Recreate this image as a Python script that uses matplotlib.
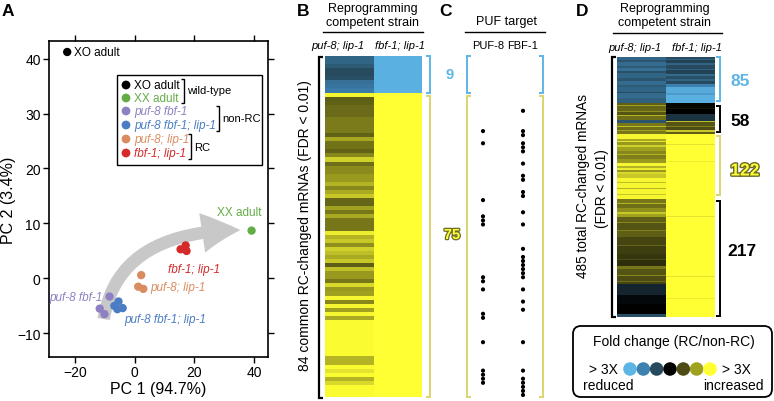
import numpy as np
import matplotlib

matplotlib.use("Agg")
import matplotlib.pyplot as plt
import matplotlib.patheffects as pe
from matplotlib import font_manager
from matplotlib.colors import LinearSegmentedColormap
from matplotlib.patches import FancyArrowPatch, FancyBboxPatch, Rectangle

W, H = 774, 402

_names = {f.name for f in font_manager.fontManager.ttflist}
SANS = "Liberation Sans" if "Liberation Sans" in _names else "DejaVu Sans"
plt.rcParams["font.family"] = [SANS, "DejaVu Sans"]

# ---------------- data ----------------
# panel A: PCA of samples
PCA_GROUPS = ["XO adult", "XX adult", "puf-8 fbf-1", "puf-8 fbf-1; lip-1", "puf-8; lip-1", "fbf-1; lip-1"]
PCA_COLORS = ["#000000", "#63ad47", "#8e80c3", "#4a7dc3", "#d98c5f", "#d42a2a"]
PC1_VALUES = [[-22.6], [39.2], [-8.4, -11.7, -10.1], [-5.4, -6.8, -4.0, -5.8], [2.2, 1.2, 2.9], [15.4, 17.1, 17.4]]
PC2_VALUES = [[41.2], [8.7], [-3.3, -5.5, -6.5], [-4.2, -5.0, -5.4, -5.6], [0.6, -1.5, -1.9], [5.3, 6.0, 5.0]]
ARROW_START = (-10.5, -7.9)
ARROW_END = (36.4, 8.8)

# fold-change colour levels (-3 = >3X reduced ... +3 = >3X increased)
LEVELS = [-3, -2, -1, 0, 1, 2, 3]
LEVEL_COLORS = ["#5db5e6", "#3c80ae", "#274a5e", "#000000", "#4c4c14", "#a0a020", "#ffff33"]

# panel B: 84 common RC-changed mRNAs, two strains
B_PUF8_LIP1 = [-1.5, -1.5, -1.3, -1.0, -1.0, -1.1, -1.7, -1.8, -1.9, 2.9,
               1.2, 1.25, 1.35, 1.35, 1.35, 1.55, 1.55, 1.55, 1.55, 1.25,
               2.05, 1.45, 1.45, 1.25, 1.7, 2.5, 1.4, 1.75, 1.75, 1.9,
               1.9, 2.2, 1.7, 2.1, 2.4, 1.3, 1.3, 2.0, 1.5, 2.1,
               1.5, 1.5, 1.5, 2.8, 2.2, 2.4, 1.8, 2.5, 2.3, 2.1,
               2.4, 1.2, 2.3, 1.9, 1.9, 1.5, 2.6, 1.9, 2.0, 2.9,
               1.7, 2.9, 2.0, 2.9, 2.1, 2.95, 2.95, 2.95, 2.95, 2.95,
               2.95, 2.95, 2.95, 2.95, 2.2, 2.2, 2.95, 2.7, 2.95, 2.2,
               2.6, 2.95, 2.95, 2.95]
B_FBF1_LIP1 = [-2.9] * 9 + [3.0] * 75
B_GROUPS = [9, 75]

# panel C: PUF targets (row indices within the 84 mRNAs of panel B)
PUF8_TARGET_ROWS = [18, 21, 35, 39, 40, 41, 54, 55, 57, 63, 64, 70, 77, 78, 79, 80]
FBF1_TARGET_ROWS = [13, 18, 19, 21, 22, 23, 26, 29, 30, 33, 34, 38, 41, 47, 49, 50, 51, 52,
                    53, 54, 57, 60, 62, 70, 77, 79, 80, 81, 82, 83]

# panel D: 485 RC-changed mRNAs, run-length (level, rows)
D_PUF8_LIP1 = [(-1.5, 6), (-1.2, 3), (-1.6, 8), (-1.3, 4), (-1.7, 6), (-1.1, 3), (-1.5, 10),
               (-1.2, 5), (-1.6, 7), (-1.3, 4), (-1.5, 9), (-1.0, 3), (-1.6, 8), (-1.4, 9),
               (1.2, 5), (2.0, 2), (1.3, 8), (1.8, 2), (1.1, 6), (2.2, 2), (1.4, 7),
               (-1.2, 6), (1.5, 5), (2.3, 2), (1.4, 6), (2.0, 2), (1.5, 5),
               (2.9, 10), (2.1, 4), (2.7, 2), (1.9, 6), (2.5, 3), (2.0, 7), (1.7, 6),
               (2.2, 2), (1.6, 8), (1.9, 7), (2.9, 5), (2.2, 4), (2.8, 3), (1.9, 5),
               (2.6, 3), (2.4, 7), (2.9, 8), (2.3, 2), (2.9, 10), (2.2, 2), (2.9, 8),
               (2.4, 2), (2.9, 8),
               (1.5, 8), (2.2, 2), (1.4, 6), (1.8, 8), (2.4, 3), (2.0, 6), (1.2, 10),
               (1.7, 2), (1.1, 12), (1.6, 2), (1.2, 12), (0.9, 14), (1.3, 2), (0.8, 15),
               (0.7, 10), (1.0, 2), (0.6, 10), (1.5, 7), (1.1, 10), (1.7, 3), (1.0, 8),
               (1.4, 3), (0.9, 4), (-0.5, 20), (-0.1, 16), (0.0, 20), (-1.1, 5)]
D_FBF1_LIP1 = [(-1.0, 4), (-1.4, 2), (-0.9, 6), (-1.5, 3), (-1.0, 7), (-1.4, 2), (-0.9, 8),
               (-1.6, 3), (-1.1, 6), (-1.5, 3), (-1.0, 6), (-2.0, 6), (-2.8, 12), (-2.5, 2),
               (-2.9, 15),
               (0.1, 10), (0.3, 2), (0.0, 10), (-0.7, 12), (2.3, 2), (1.1, 7), (1.6, 3),
               (1.0, 6), (2.4, 2), (1.2, 4),
               (3.0, 20), (2.7, 1), (3.0, 30), (2.8, 1), (3.0, 25), (2.7, 1), (3.0, 40),
               (2.8, 1), (3.0, 35), (2.7, 1), (3.0, 50), (2.8, 1), (3.0, 60), (2.7, 1),
               (3.0, 40), (2.8, 1), (3.0, 34)]
D_GROUPS = [85, 58, 122, 217]

STRAINS = ["puf-8; lip-1", "fbf-1; lip-1"]

# ---------------- helpers ----------------
cmap = LinearSegmentedColormap.from_list(
    "fc", [((v + 3) / 6, c) for v, c in zip(LEVELS, LEVEL_COLORS)])

BLUE_BR = "#5db5e6"
YELLOW_BR = "#dcd56e"


def frac(x0, y0, x1, y1):
    return [x0 / W, 1 - y1 / H, (x1 - x0) / W, (y1 - y0) / H]


def expand(segments):
    return np.concatenate([np.full(n, v, dtype=float) for v, n in segments])


def heatmap(rect, columns):
    a = fig.add_axes(rect)
    mat = np.column_stack(columns)
    a.pcolormesh(np.arange(mat.shape[1] + 1), np.arange(mat.shape[0] + 1), mat,
                 cmap=cmap, vmin=-3, vmax=3, shading="flat", antialiased=False)
    a.set_xlim(0, mat.shape[1])
    a.set_ylim(mat.shape[0], 0)
    a.axis("off")
    return a


fig = plt.figure(figsize=(W / 100, H / 100), dpi=100)

# ---------------- panel A ----------------
ax = fig.add_axes(frac(49, 42, 268, 358))
ax.add_patch(FancyArrowPatch(
    ARROW_START, ARROW_END,
    arrowstyle="simple,head_length=2.3,head_width=2.4,tail_width=0.75",
    mutation_scale=12, connectionstyle="angle3,angleA=82,angleB=0",
    color="#c8c8c8", lw=0, zorder=1))
for col, xs, ys in zip(PCA_COLORS, PC1_VALUES, PC2_VALUES):
    ax.scatter(xs, ys, s=36, color=col, edgecolors="none", zorder=3)
ax.set_xlim(-28.7, 44.7)
ax.set_ylim(-14.3, 43.2)
ax.set_xticks([-20, 0, 20, 40])
ax.set_yticks([-10, 0, 10, 20, 30, 40])
ax.tick_params(top=True, right=True, labeltop=False, labelright=False,
               direction="out", length=4.5, width=1.0, labelsize=10, pad=1.5)
for s in ax.spines.values():
    s.set_linewidth(1.2)
ax.set_xlabel("PC 1 (94.7%)", fontsize=11.5)
ax.set_ylabel("PC 2 (3.4%)", fontsize=11.5)
ax.xaxis.set_label_coords(0.5, -(382 - 358) / 316)
ax.yaxis.set_label_coords(-(49 - 16) / 219, 0.5)

ax.text(-20.2, 41.2, "XO adult", fontsize=8.5, ha="left", va="center")
ax.text(35.2, 12.0, "XX adult", fontsize=8.5, color=PCA_COLORS[1], ha="center", va="center")
ax.text(20.0, 1.8, "fbf-1; lip-1", fontsize=8.5, color=PCA_COLORS[5], style="italic",
        ha="center", va="center")
ax.text(5.4, -1.5, "puf-8; lip-1", fontsize=8.5, color=PCA_COLORS[4], style="italic",
        ha="left", va="center")
ax.text(-10.7, -3.3, "puf-8 fbf-1", fontsize=8.5, color=PCA_COLORS[2], style="italic",
        ha="right", va="center")
ax.text(-3.4, -7.4, "puf-8 fbf-1; lip-1", fontsize=8.5, color=PCA_COLORS[3], style="italic",
        ha="left", va="center")

# ---------------- panel B heatmap ----------------
heatmap(frac(325, 57, 422, 398), [B_PUF8_LIP1, B_FBF1_LIP1])

# ---------------- panel C dots ----------------
axc = fig.add_axes(frac(463, 57, 543, 398))
axc.scatter([0] * len(PUF8_TARGET_ROWS), PUF8_TARGET_ROWS, s=9, color="black", edgecolors="none")
axc.scatter([1] * len(FBF1_TARGET_ROWS), FBF1_TARGET_ROWS, s=9, color="black", edgecolors="none")
axc.set_xlim(-0.5, 1.5)
axc.set_ylim(sum(B_GROUPS) - 0.5, -0.5)
axc.axis("off")

# ---------------- panel D heatmap ----------------
heatmap(frac(617, 58, 715, 318), [expand(D_PUF8_LIP1), expand(D_FBF1_LIP1)])

# ---------------- overlay for annotations ----------------
ov = fig.add_axes([0, 0, 1, 1])
ov.set_xlim(0, W)
ov.set_ylim(H, 0)
ov.axis("off")
ov.set_zorder(10)


def bracket(x, y0, y1, side, color, lw=1.2, tick=4):
    d = tick if side == "left" else -tick
    ov.plot([x + d, x, x, x + d], [y0, y0, y1, y1], color=color, lw=lw,
            solid_joinstyle="miter", solid_capstyle="butt")


# panel letters
for letter, (lx, ly) in zip("ABCD", [(8, 12), (303, 12), (446, 11), (582, 11)]):
    ov.text(lx, ly, letter, fontsize=12.5, fontweight="bold", ha="center", va="center")

# legend of panel A
ov.add_patch(Rectangle((117, 76), 145, 90, facecolor="white", edgecolor="black", lw=1.0))
leg_y = [86, 99, 112, 126, 140, 154]
ov.scatter([126] * len(leg_y), leg_y, s=40, c=PCA_COLORS, edgecolors="none")
for y, name, col in zip(leg_y, PCA_GROUPS, PCA_COLORS):
    ov.text(134, y, name, fontsize=8.5, color=col, ha="left", va="center",
            style="normal" if "adult" in name else "italic")
bracket(184, 80, 104, "right", "black", lw=1.0, tick=3)
ov.text(187, 91, "wild-type", fontsize=8, ha="left", va="center")
bracket(219, 107, 132, "right", "black", lw=1.0, tick=3)
ov.text(222, 119, "non-RC", fontsize=8, ha="left", va="center")
bracket(191, 135, 160, "right", "black", lw=1.0, tick=3)
ov.text(194, 148, "RC", fontsize=8, ha="left", va="center")

# headers B
ov.text(373, 9, "Reprogramming", fontsize=9, ha="center", va="center")
ov.text(373, 23, "competent strain", fontsize=9, ha="center", va="center")
ov.plot([323, 423], [33, 33], color="black", lw=1.0)
ov.text(338, 46, STRAINS[0], fontsize=8, style="italic", ha="center", va="center")
ov.text(400, 46, STRAINS[1], fontsize=8, style="italic", ha="center", va="center")
ov.text(305, 226, "84 common RC-changed mRNAs (FDR < 0.01)", rotation=90, fontsize=10,
        ha="center", va="center")
bracket(319, 57.5, 398.5, "left", "black", lw=1.6, tick=4)
bracket(430, 57, 93.5, "right", BLUE_BR, lw=1.4)
bracket(430, 97, 398, "right", YELLOW_BR, lw=1.4)
ov.text(450, 75, str(B_GROUPS[0]), fontsize=10.5, fontweight="bold", color=BLUE_BR,
        ha="center", va="center")
ov.text(452, 236, str(B_GROUPS[1]), fontsize=10.5, fontweight="bold", color="#ffff33",
        ha="center", va="center",
        path_effects=[pe.withStroke(linewidth=1.8, foreground="#6a6a2a")])

# headers C
ov.text(506, 22, "PUF target", fontsize=9, ha="center", va="center")
ov.plot([465, 545], [33, 33], color="black", lw=1.0)
ov.text(488, 46, "PUF-8", fontsize=8, ha="center", va="center")
ov.text(523, 46, "FBF-1", fontsize=8, ha="center", va="center")
bracket(466.5, 57, 93.5, "left", BLUE_BR, lw=1.4)
bracket(466.5, 97, 398, "left", YELLOW_BR, lw=1.4)
bracket(543, 57, 93.5, "right", BLUE_BR, lw=1.4)
bracket(543, 97, 398, "right", YELLOW_BR, lw=1.4)

# headers D
ov.text(665, 9, "Reprogramming", fontsize=9, ha="center", va="center")
ov.text(665, 23, "competent strain", fontsize=9, ha="center", va="center")
ov.plot([613, 722], [34, 34], color="black", lw=1.0)
ov.text(635, 48, STRAINS[0], fontsize=8, style="italic", ha="center", va="center")
ov.text(697, 48, STRAINS[1], fontsize=8, style="italic", ha="center", va="center")
ov.text(583, 186, "485 total RC-changed mRNAs", rotation=90, fontsize=9.8,
        ha="center", va="center")
ov.text(602, 189, "(FDR < 0.01)", rotation=90, fontsize=9.8, ha="center", va="center")
bracket(612, 58, 318, "left", "black", lw=1.6, tick=4)
bracket(720, 58, 102, "right", BLUE_BR, lw=1.4)
bracket(720, 107, 133, "right", "black", lw=1.4)
bracket(720, 137, 196, "right", YELLOW_BR, lw=1.4)
bracket(720, 202, 317, "right", "black", lw=1.4)
ov.text(740, 81, str(D_GROUPS[0]), fontsize=12.5, fontweight="bold", color=BLUE_BR,
        ha="center", va="center")
ov.text(740, 121, str(D_GROUPS[1]), fontsize=12.5, fontweight="bold", color="black",
        ha="center", va="center")
ov.text(745, 172, str(D_GROUPS[2]), fontsize=12.5, fontweight="bold", color="#ffff33",
        ha="center", va="center",
        path_effects=[pe.withStroke(linewidth=2.0, foreground="#6a6a2a")])
ov.text(742, 252, str(D_GROUPS[3]), fontsize=12.5, fontweight="bold", color="black",
        ha="center", va="center")

# fold-change legend
ov.add_patch(FancyBboxPatch((573, 327), 199, 71, boxstyle="round,pad=0,rounding_size=8",
                            facecolor="white", edgecolor="black", lw=1.3))
ov.text(674, 342, "Fold change (RC/non-RC)", fontsize=10, ha="center", va="center")
ov.scatter(np.linspace(630, 710, len(LEVELS)), [370] * len(LEVELS), c=LEVELS, cmap=cmap,
           vmin=-3, vmax=3, s=95, edgecolors="none", zorder=3)
ov.text(618, 370, "> 3X", fontsize=10, ha="right", va="center")
ov.text(722, 370, "> 3X", fontsize=10, ha="left", va="center")
ov.text(583, 386, "reduced", fontsize=10, ha="left", va="center")
ov.text(764, 386, "increased", fontsize=10, ha="right", va="center")

fig.savefig("out.png", dpi=100)
